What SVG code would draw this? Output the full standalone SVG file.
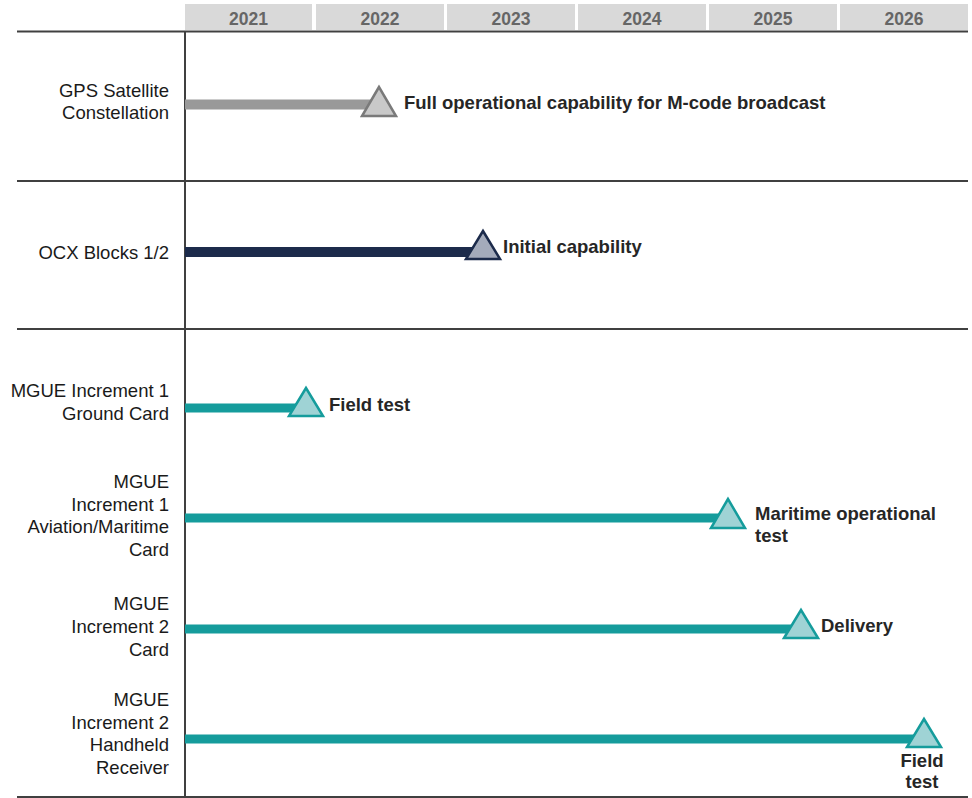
<svg xmlns="http://www.w3.org/2000/svg" width="972" height="798" viewBox="0 0 972 798">
<style>
.yc{fill:#d9d9d9}
.yt{font-family:"Liberation Sans",Arial,sans-serif;font-size:17.5px;font-weight:bold;fill:#666;text-anchor:middle}
.ax{stroke:#404040;stroke-width:2;fill:none}
.lb{font-family:"Liberation Sans",Arial,sans-serif;font-size:18.5px;fill:#1a1a1a;text-anchor:end}
.ms{font-family:"Liberation Sans",Arial,sans-serif;font-size:18.5px;font-weight:bold;fill:#262626}
.bg{stroke:#999;stroke-width:10}
.bn{stroke:#1c2b4b;stroke-width:10}
.bt{stroke:#159c9c;stroke-width:9}
.tg{fill:#c9c9c9;stroke:#7a7a7a;stroke-width:2.5;stroke-linejoin:miter}
.tn{fill:#a4abbb;stroke:#1c2b4b;stroke-width:2.5}
.tt{fill:#9fd3d5;stroke:#159c9c;stroke-width:2.5}
</style>
<rect width="972" height="798" fill="#fff"/>
<g id="years">
<rect class="yc" x="185" y="4" width="127" height="26"/>
<rect class="yc" x="316" y="4" width="128" height="26"/>
<rect class="yc" x="447" y="4" width="128" height="26"/>
<rect class="yc" x="578" y="4" width="128" height="26"/>
<rect class="yc" x="709" y="4" width="128" height="26"/>
<rect class="yc" x="840" y="4" width="128" height="26"/>
<text class="yt" x="248.5" y="25">2021</text>
<text class="yt" x="380" y="25">2022</text>
<text class="yt" x="511" y="25">2023</text>
<text class="yt" x="642" y="25">2024</text>
<text class="yt" x="773" y="25">2025</text>
<text class="yt" x="904" y="25">2026</text>
</g>
<g id="axes">
<line class="ax" x1="17" y1="31.5" x2="968" y2="31.5"/>
<line class="ax" x1="17" y1="181" x2="968" y2="181"/>
<line class="ax" x1="17" y1="329" x2="968" y2="329"/>
<line class="ax" x1="17" y1="797" x2="968" y2="797"/>
<line class="ax" x1="185" y1="31" x2="185" y2="798"/>
</g>
<g id="connectors">
<line class="bg" x1="185" y1="104.5" x2="372" y2="104.5"/>
<line class="bn" x1="185" y1="252" x2="476" y2="252"/>
<line class="bt" x1="185" y1="408" x2="298" y2="408"/>
<line class="bt" x1="185" y1="518" x2="720" y2="518"/>
<line class="bt" x1="185" y1="629" x2="793" y2="629"/>
<line class="bt" x1="185" y1="739" x2="916" y2="739"/>
</g>
<g id="gps">
<text class="lb" x="169" y="97">GPS Satellite</text>
<text class="lb" x="169" y="119">Constellation</text>
<polygon class="tg" points="379,87 362,116 396,116"/>
<text class="ms" x="404" y="109">Full operational capability for M-code broadcast</text>
</g>
<g id="ocx">
<text class="lb" x="169" y="259">OCX Blocks 1/2</text>
<polygon class="tn" points="483,231 466,259 500,259"/>
<text class="ms" x="503" y="253">Initial capability</text>
</g>
<g id="mgue1ground">
<text class="lb" x="169" y="397">MGUE Increment 1</text>
<text class="lb" x="169" y="420">Ground Card</text>
<polygon class="tt" points="306,388 289,416 323,416"/>
<text class="ms" x="329" y="411">Field test</text>
</g>
<g id="mgue1avmar">
<text class="lb" x="169" y="488">MGUE</text>
<text class="lb" x="169" y="511">Increment 1</text>
<text class="lb" x="169" y="533">Aviation/Maritime</text>
<text class="lb" x="169" y="556">Card</text>
<polygon class="tt" points="728,499 711,528 745,528"/>
<text class="ms" x="755" y="520">Maritime operational</text>
<text class="ms" x="755" y="542">test</text>
</g>
<g id="mgue2card">
<text class="lb" x="169" y="610">MGUE</text>
<text class="lb" x="169" y="633">Increment 2</text>
<text class="lb" x="169" y="656">Card</text>
<polygon class="tt" points="801,610 784,638 818,638"/>
<text class="ms" x="821" y="632">Delivery</text>
</g>
<g id="mgue2handheld">
<text class="lb" x="169" y="706">MGUE</text>
<text class="lb" x="169" y="729">Increment 2</text>
<text class="lb" x="169" y="751">Handheld</text>
<text class="lb" x="169" y="774">Receiver</text>
<polygon class="tt" points="924,719 907,747 941,747"/>
<text class="ms" x="922" y="767" text-anchor="middle">Field</text>
<text class="ms" x="922" y="788" text-anchor="middle">test</text>
</g>
</svg>
